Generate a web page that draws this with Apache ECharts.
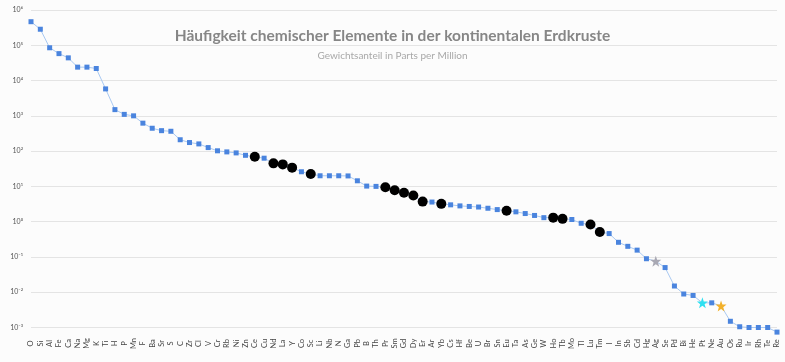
<!DOCTYPE html>
<html>
<head>
<meta charset="utf-8">
<script src="https://cdn.jsdelivr.net/npm/echarts@6/dist/echarts.min.js"></script>
<style>
html,body{margin:0;padding:0;background:#fcfcfc;}
#chart{width:785px;height:362px;}
</style>
</head>
<body>
<div id="chart"></div>
<script>
const titleText = 'Häufigkeit chemischer Elemente in der kontinentalen Erdkruste';
const subtitleText = 'Gewichtsanteil in Parts per Million';

const elements = ['O','Si','Al','Fe','Ca','Na','Mg','K','Ti','H','P','Mn','F','Ba','Sr','S','C','Zr','Cl','V','Cr','Rb','Ni','Zn','Ce','Cu','Nd','La','Y','Co','Sc','Li','Nb','N','Ga','Pb','B','Th','Pr','Sm','Gd','Dy','Er','Ar','Yb','Cs','Hf','Be','U','Br','Sn','Eu','Ta','As','Ge','W','Ho','Tb','Mo','Tl','Lu','Tm','I','In','Sb','Cd','Hg','Ag','Se','Pd','Bi','He','Pt','Ne','Au','Os','Ru','Ir','Rh','Te','Re'];

const ppm = [466000,285000,85000,58000,44000,24000,24000,22000,5800,1500,1100,1000,620,445,380,365,210,175,160,126,102,95,89,76,69,63,45,42,34,26,22.5,20,20,20,19.8,14.4,10.2,10,9.5,7.8,6.6,5.5,3.7,3.6,3.2,3.0,2.8,2.7,2.6,2.4,2.2,2.05,1.9,1.7,1.5,1.3,1.3,1.2,1.15,0.9,0.83,0.51,0.46,0.26,0.2,0.156,0.089,0.076,0.05,0.015,0.0089,0.0081,0.005,0.005,0.0041,0.0015,0.00105,0.001,0.001,0.001,0.00074];

const rareEarths = ['Ce','Nd','La','Y','Sc','Pr','Sm','Gd','Dy','Er','Yb','Eu','Ho','Tb','Lu','Tm'];
const starElements = ['Ag','Pt','Au'];
const starColors = {Ag:'#a9a9b4', Pt:'#2fe0f0', Au:'#f2b12c'};

const sup = {'0':'⁰','1':'¹','2':'²','3':'³','4':'⁴','5':'⁵','6':'⁶','7':'⁷','8':'⁸','9':'⁹','-':'⁻'};
function powLabel(v){
  const e = Math.round(Math.log10(v));
  return '10' + String(e).split('').map(c => sup[c]).join('');
}

const data = elements.map((el, i) => {
  const item = { value: ppm[i] };
  if (rareEarths.includes(el)) {
    item.symbol = 'circle';
    item.symbolSize = 10;
    item.itemStyle = { color: '#000' };
  } else if (starElements.includes(el)) {
    item.symbol = 'path://M0,-10 L2.35,-3.24 L9.51,-3.09 L3.8,1.24 L5.88,8.09 L0,4 L-5.88,8.09 L-3.8,1.24 L-9.51,-3.09 L-2.35,-3.24 Z';
    item.symbolSize = 11;
    item.itemStyle = { color: starColors[el] };
  }
  return item;
});

const chart = echarts.init(document.getElementById('chart'));
chart.setOption({
  backgroundColor: '#fcfcfc',
  animation: false,
  title: [
    { text: titleText, left: 'center', top: 23,
      textStyle: { fontFamily: 'Lato', fontWeight: 'bold', fontSize: 15.5, color: '#868686' } },
    { text: subtitleText, left: 'center', top: 46,
      textStyle: { fontFamily: 'Lato', fontWeight: 'normal', fontSize: 10, color: '#a8a8a8' } }
  ],
  grid: { left: 31, right: 8, top: 10, bottom: 34.5 },
  xAxis: {
    type: 'category',
    data: elements,
    boundaryGap: false,
    axisLine: { show: false },
    axisTick: { show: false },
    axisLabel: { interval: 0, rotate: 90, align: 'center', verticalAlign: 'middle', margin: 16,
      fontFamily: 'Lato', fontSize: 7.5, color: '#444' },
    splitLine: { show: false }
  },
  yAxis: {
    type: 'log',
    logBase: 10,
    min: 0.001,
    max: 1000000,
    splitNumber: 10,
    axisLine: { show: false },
    axisTick: { show: false },
    axisLabel: { formatter: powLabel, fontFamily: 'Lato', fontSize: 7, color: '#555', margin: 8 },
    splitLine: { lineStyle: { color: '#e4e4e4', width: 1 } }
  },
  series: [{
    type: 'line',
    data: data,
    clip: false,
    symbol: 'rect',
    symbolSize: 5,
    lineStyle: { color: '#a9c9f2', width: 1 },
    itemStyle: { color: '#4a84de' }
  }]
});
</script>
</body>
</html>
